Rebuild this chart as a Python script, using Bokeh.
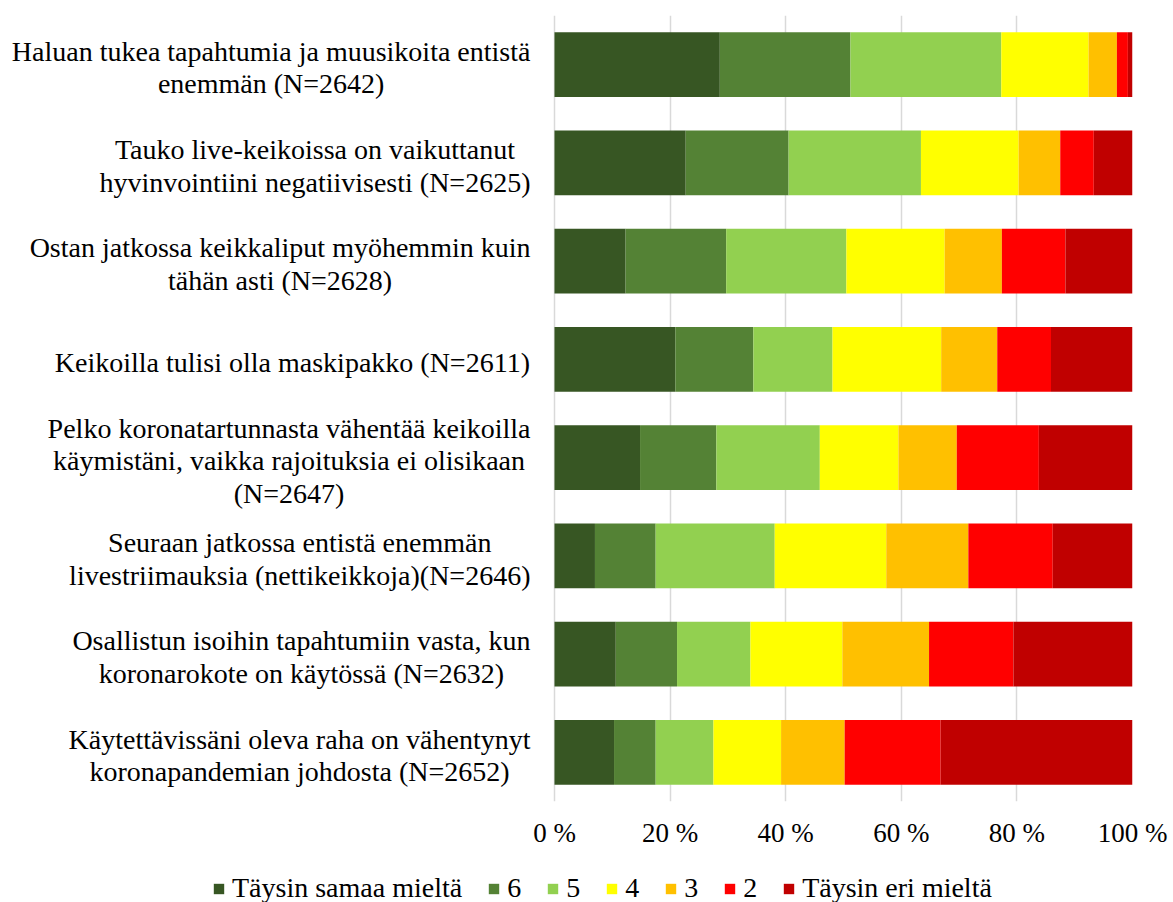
from bokeh.plotting import figure
from bokeh.layouts import column
from bokeh.models import ColumnDataSource, FactorRange, Range1d, FixedTicker, Legend, LegendItem
from bokeh.core.properties import value
from bokeh.embed import file_html
from bokeh.resources import INLINE

categories = [
    "Haluan tukea tapahtumia ja muusikoita entistä\nenemmän (N=2642)",
    "Tauko live-keikoissa on vaikuttanut\nhyvinvointiini negatiivisesti (N=2625)",
    "Ostan jatkossa keikkaliput myöhemmin kuin\ntähän asti (N=2628)",
    "Keikoilla tulisi olla maskipakko (N=2611)",
    "Pelko koronatartunnasta vähentää keikoilla\nkäymistäni, vaikka rajoituksia ei olisikaan\n(N=2647)",
    "Seuraan jatkossa entistä enemmän\nlivestriimauksia (nettikeikkoja)(N=2646)",
    "Osallistun isoihin tapahtumiin vasta, kun\nkoronarokote on käytössä (N=2632)",
    "Käytettävissäni oleva raha on vähentynyt\nkoronapandemian johdosta (N=2652)",
]

series_names = ["Täysin samaa mieltä", "6", "5", "4", "3", "2", "Täysin eri mieltä"]

s7 = [28.6, 22.7, 12.3, 20.9, 14.8, 7.0, 10.6, 10.3]
s6 = [22.6, 17.8, 17.4, 13.5, 13.2, 10.5, 10.6, 7.2]
s5 = [26.1, 22.9, 20.8, 13.7, 17.9, 20.6, 12.7, 10.0]
s4 = [15.1, 16.9, 17.0, 18.8, 13.6, 19.3, 15.9, 11.7]
s3 = [4.9, 7.2, 9.9, 9.7, 10.1, 14.2, 15.0, 11.0]
s2 = [1.9, 5.8, 11.0, 9.3, 14.2, 14.6, 14.6, 16.6]
s1 = [0.8, 6.7, 11.6, 14.1, 16.2, 13.8, 20.6, 33.2]

colors = ["#375623", "#548235", "#92D050", "#FFFF00", "#FFC000", "#FF0000", "#C00000"]

x_ticks = [0, 20, 40, 60, 80, 100]
x_tick_labels = ["0 %", "20 %", "40 %", "60 %", "80 %", "100 %"]

FONT = "Liberation Serif"
LABEL_PX = 28
LABEL_GAP = 24          # gap between label block and the plot area (px)
PLOT_LEFT = 554         # px reserved for the category labels
PLOT_W = 578
RIGHT_PAD = 41
LEG_LEFT = 212

# Times / Liberation Serif advance widths (1/1000 em) used to centre label lines
_W = {" ": 250, "(": 333, ")": 333, ",": 250, "-": 333, "=": 564,
      "a": 444, "b": 500, "c": 444, "d": 500, "e": 444, "f": 333, "g": 500, "h": 500,
      "i": 278, "j": 278, "k": 500, "l": 278, "m": 778, "n": 500, "o": 500, "p": 500,
      "q": 500, "r": 333, "s": 389, "t": 278, "u": 500, "v": 500, "w": 722, "x": 500,
      "y": 500, "z": 444, "ä": 444, "ö": 500,
      "H": 722, "N": 722, "T": 611, "O": 722, "K": 722, "P": 556, "S": 556}


def block_width(txt):
    return max(sum(_W.get(c, 500) for c in line) for line in txt.split("\n")) * LABEL_PX / 1000.0


keys = ["v7", "v6", "v5", "v4", "v3", "v2", "v1"]
source = ColumnDataSource(dict(cat=categories, v7=s7, v6=s6, v5=s5, v4=s4, v3=s3, v2=s2, v1=s1))
label_source = ColumnDataSource(dict(
    cat=categories,
    x=[0] * len(categories),
    xoff=[-(LABEL_GAP + block_width(c) / 2.0) for c in categories],
))

p = figure(
    y_range=FactorRange(factors=list(reversed(categories)), range_padding=0),
    x_range=Range1d(-100.0 * PLOT_LEFT / PLOT_W, 100),
    frame_width=PLOT_LEFT + PLOT_W, frame_height=786,
    min_border_left=0, min_border_right=RIGHT_PAD,
    min_border_top=15, min_border_bottom=48,
    output_backend="svg", toolbar_location=None,
)

p.hbar_stack(keys, y="cat", height=0.66, color=colors, line_color=None, source=source)

p.text(x="x", y="cat", text="cat", x_offset="xoff", y_offset=3, source=label_source,
       text_align="center", text_baseline="middle", text_color="black",
       text_font=value(FONT), text_font_size=f"{LABEL_PX}px", text_line_height=1.05)

p.outline_line_color = None
p.ygrid.grid_line_color = None
p.yaxis.visible = False
p.xgrid.grid_line_color = "#D9D9D9"
p.xgrid.grid_line_width = 1.5
p.xaxis.ticker = FixedTicker(ticks=x_ticks)
p.xaxis.major_label_overrides = {t: l for t, l in zip(x_ticks, x_tick_labels)}
p.xaxis.axis_line_color = None
p.xaxis.major_tick_line_color = None
p.xaxis.minor_tick_line_color = None
p.xaxis.major_tick_out = 0
p.xaxis.major_label_text_font = FONT
p.xaxis.major_label_text_color = "black"
p.xaxis.major_label_text_font_size = "27px"
p.xaxis.major_label_standoff = 16

# legend strip below the chart (same borders, so the column keeps the chart in place)
leg = figure(
    y_range=FactorRange(factors=list(reversed(categories))), x_range=Range1d(0, 100),
    frame_width=PLOT_LEFT + PLOT_W, frame_height=40,
    min_border_left=0, min_border_right=RIGHT_PAD, min_border_top=18, min_border_bottom=0,
    output_backend="svg", toolbar_location=None,
)
leg.axis.visible = False
leg.grid.visible = False
leg.outline_line_color = None
swatches = leg.hbar_stack(keys, y="cat", height=0.66, color=colors, line_color=None, source=source)
for r in swatches:
    r.visible = False

legend = Legend(
    items=[LegendItem(label=n, renderers=[r]) for n, r in zip(series_names, swatches)],
    orientation="horizontal",
    location="center_left", margin=LEG_LEFT,
    label_text_font=FONT, label_text_font_size="28px", label_text_color="black",
    glyph_width=13, glyph_height=13, label_standoff=7, label_width=14, spacing=25,
    padding=0, border_line_color=None, background_fill_alpha=0,
    inactive_fill_alpha=0, click_policy="none",
)
leg.add_layout(legend, "center")

open("out.html", "w").write(file_html(column(p, leg, spacing=0), INLINE))
